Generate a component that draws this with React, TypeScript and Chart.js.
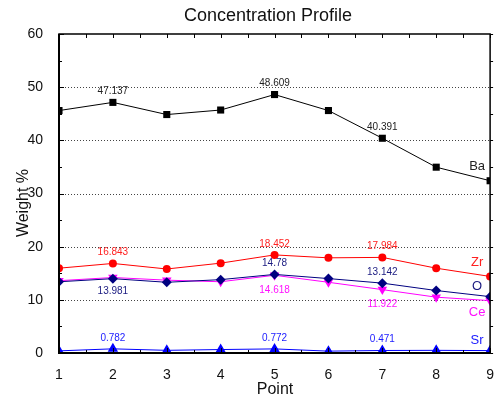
import React, { useEffect, useRef } from "react";
import { Chart, registerables } from "chart.js";

Chart.register(...registerables);

const points = [1, 2, 3, 4, 5, 6, 7, 8, 9];
const baValues = [45.6, 47.137, 44.85, 45.7, 48.609, 45.6, 40.391, 34.95, 32.4];
const zrValues = [15.95, 16.843, 15.8, 16.9, 18.452, 17.9, 17.984, 15.95, 14.4];
const oValues = [13.4, 13.981, 13.3, 13.8, 14.78, 14.0, 13.142, 11.75, 10.6];
const ceValues = [13.6, 14.2, 13.7, 13.4, 14.618, 13.3, 11.922, 10.5, 9.85];
const srValues = [0.4, 0.782, 0.5, 0.65, 0.772, 0.35, 0.471, 0.5, 0.45];

const yTicks = [0, 10, 20, 30, 40, 50, 60];
const gridValues = [10, 20, 30, 40, 50];

// indices of points whose values are printed, and on which side
const baLabelIdx = [1, 4, 6];
const zrLabelIdx = [1, 4, 6];
const oLabelIdx = [1, 4, 6];
const oLabelSide = ["below", "above", "above"];
const ceLabelIdx = [4, 6];
const srLabelIdx = [1, 4, 6];

const FONT = "Arial, 'Liberation Sans', sans-serif";

export default function App() {
  const ref = useRef<HTMLCanvasElement>(null);

  useEffect(() => {
    document.body.style.margin = "0";
    const canvas = ref.current!;

    const series = [
      { name: "Ba", values: baValues, color: "#000000", labelColor: "#222222", idx: baLabelIdx, sides: baLabelIdx.map(() => "above"), nameDy: -14 },
      { name: "Zr", values: zrValues, color: "#ff0000", labelColor: "#ff2020", idx: zrLabelIdx, sides: zrLabelIdx.map(() => "above"), nameDy: -14 },
      { name: "O", values: oValues, color: "#000080", labelColor: "#1a1a80", idx: oLabelIdx, sides: oLabelSide, nameDy: -10 },
      { name: "Ce", values: ceValues, color: "#ff00ff", labelColor: "#ff10ff", idx: ceLabelIdx, sides: ceLabelIdx.map(() => "below"), nameDy: 12 },
      { name: "Sr", values: srValues, color: "#0000ff", labelColor: "#1a1aff", idx: srLabelIdx, sides: srLabelIdx.map(() => "above"), nameDy: -10 },
    ];

    const decor = {
      id: "decor",
      beforeDatasetsDraw(chart: any) {
        const { ctx, chartArea: a, scales } = chart;
        const y = scales.y;
        ctx.save();
        ctx.strokeStyle = "#444";
        ctx.lineWidth = 1;
        ctx.setLineDash([1, 2]);
        for (const g of gridValues) {
          const py = Math.round(y.getPixelForValue(g)) + 0.5;
          ctx.beginPath();
          ctx.moveTo(a.left, py);
          ctx.lineTo(a.right, py);
          ctx.stroke();
        }
        ctx.restore();
      },
      afterDatasetsDraw(chart: any) {
        const { ctx, chartArea: a, scales } = chart;
        const x = scales.x;
        const y = scales.y;
        ctx.save();
        // frame
        ctx.strokeStyle = "#000";
        ctx.lineWidth = 1.5;
        ctx.strokeRect(a.left, a.top, a.right - a.left, a.bottom - a.top);
        ctx.lineWidth = 2;
        ctx.beginPath();
        ctx.moveTo(a.left, a.top);
        ctx.lineTo(a.left, a.bottom);
        ctx.lineTo(a.right, a.bottom);
        ctx.stroke();
        // ticks
        ctx.lineWidth = 1;
        for (let v = 0; v <= 60; v += 5) {
          const py = Math.round(y.getPixelForValue(v)) + 0.5;
          const len = v % 10 === 0 ? 5 : 3;
          ctx.beginPath();
          ctx.moveTo(a.left, py);
          ctx.lineTo(a.left + len, py);
          ctx.moveTo(a.right, py);
          ctx.lineTo(a.right + 3, py);
          ctx.stroke();
        }
        for (let v = 1; v <= 9; v += 0.5) {
          const px = Math.round(x.getPixelForValue(v)) + 0.5;
          const len = Number.isInteger(v) ? 5 : 3;
          ctx.beginPath();
          ctx.moveTo(px, a.bottom);
          ctx.lineTo(px, a.bottom - len);
          ctx.moveTo(px, a.top);
          ctx.lineTo(px, a.top + 4);
          ctx.stroke();
        }
        // value labels
        ctx.font = `10px ${FONT}`;
        ctx.textAlign = "center";
        ctx.textBaseline = "middle";
        for (const s of series) {
          ctx.fillStyle = s.labelColor;
          s.idx.forEach((i: number, k: number) => {
            const px = x.getPixelForValue(points[i]);
            const py = y.getPixelForValue(s.values[i]);
            const dy = s.sides[k] === "above" ? -11 : s.name === "Ce" ? 15 : 13;
            ctx.fillText(String(s.values[i]), px, py + dy);
          });
        }
        // series names
        ctx.font = `13px ${FONT}`;
        for (const s of series) {
          ctx.fillStyle = s.labelColor;
          const last = s.values.length - 1;
          const px = x.getPixelForValue(points[last]) - 13;
          const py = y.getPixelForValue(s.values[last]) + s.nameDy;
          ctx.fillText(s.name, px, py);
        }
        // titles
        ctx.fillStyle = "#111";
        ctx.font = `18px ${FONT}`;
        ctx.fillText("Concentration Profile", 268, 16.5);
        ctx.font = `16px ${FONT}`;
        ctx.fillText("Point", 275, 390);
        ctx.translate(24, 203);
        ctx.rotate(-Math.PI / 2);
        ctx.fillText("Weight %", 0, 0);
        ctx.restore();
      },
    };

    const styles: any = {
      Ba: { pointStyle: "rect", pointRadius: 5, rotation: 0 },
      Zr: { pointStyle: "circle", pointRadius: 4, rotation: 0 },
      O: { pointStyle: "rectRot", pointRadius: 5, rotation: 0 },
      Ce: { pointStyle: "triangle", pointRadius: 5.5, rotation: 180 },
      Sr: { pointStyle: "triangle", pointRadius: 6, rotation: 0 },
    };

    const chart = new Chart(canvas, {
      type: "line",
      data: {
        datasets: series.map((s) => ({
          label: s.name,
          data: points.map((p, i) => ({ x: p, y: s.values[i] })),
          borderColor: s.color,
          backgroundColor: s.color,
          borderWidth: 1,
          pointBorderWidth: 0,
          pointStyle: styles[s.name].pointStyle,
          pointRadius: styles[s.name].pointRadius,
          pointRotation: styles[s.name].rotation,
          tension: 0,
          clip: 0,
        })),
      },
      options: {
        animation: false,
        responsive: false,
        layout: { padding: { top: 34, right: 6, left: 0, bottom: 0 } },
        plugins: { legend: { display: false }, tooltip: { enabled: false }, title: { display: false } },
        scales: {
          x: {
            type: "linear",
            min: 1,
            max: 9,
            grid: { display: false },
            border: { display: false },
            ticks: { stepSize: 1, color: "#111", font: { size: 14, family: FONT }, padding: 6, maxRotation: 0 },
            afterFit: (s: any) => { s.height = 46; },
          },
          y: {
            min: 0,
            max: 60,
            grid: { display: false },
            border: { display: false },
            afterBuildTicks: (s: any) => { s.ticks = yTicks.map((v) => ({ value: v })); },
            ticks: { color: "#111", font: { size: 14, family: FONT }, padding: 8 },
            afterFit: (s: any) => { s.width = 59; },
          },
        },
      },
      plugins: [decor],
    });
    return () => chart.destroy();
  }, []);

  return <canvas ref={ref} width={500} height={399} style={{ display: "block" }} />;
}
